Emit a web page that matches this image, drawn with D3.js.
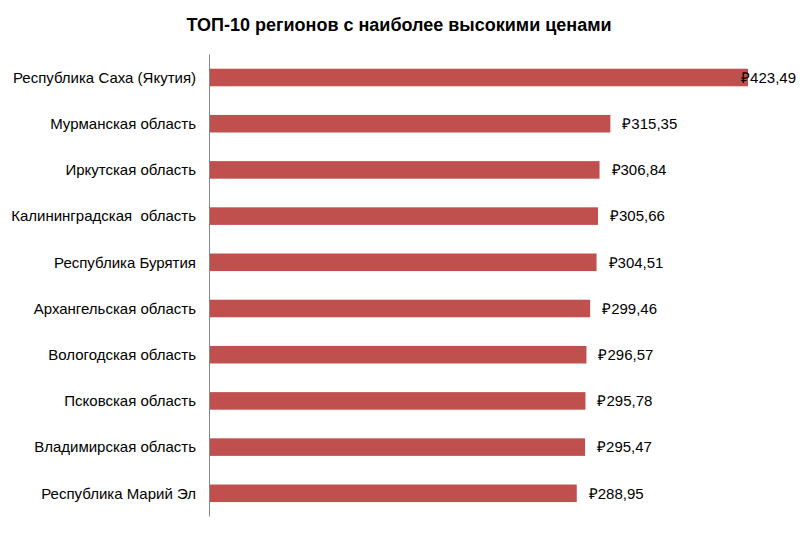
<!DOCTYPE html>
<html>
<head>
<meta charset="utf-8">
<script src="https://cdn.jsdelivr.net/npm/d3@7"></script>
<style>
  body { margin: 0; background: #fff; }
  svg { display: block; font-family: "Liberation Sans", Arial, sans-serif; }
  .cat { white-space: pre; }
</style>
</head>
<body>
<div id="chart"></div>
<script>
// Data
const regions = [
  "Республика Саха (Якутия)",
  "Мурманская область",
  "Иркутская область",
  "Калининградская  область",
  "Республика Бурятия",
  "Архангельская область",
  "Вологодская область",
  "Псковская область",
  "Владимирская область",
  "Республика Марий Эл"
];
const prices = [423.49, 315.35, 306.84, 305.66, 304.51, 299.46, 296.57, 295.78, 295.47, 288.95];

const W = 800, H = 535;
const margin = { top: 54.4, bottom: 18.6, left: 209 };

const svg = d3.select("#chart").append("svg").attr("width", W).attr("height", H);

svg.append("text")
  .attr("x", 399).attr("y", 31)
  .attr("text-anchor", "middle")
  .style("font-size", "18px").style("font-weight", "bold").style("fill", "#000")
  .text("ТОП-10 регионов с наиболее высокими ценами");

const x = d3.scaleLinear().domain([0, d3.max(prices)]).range([margin.left, 748]);
const y = d3.scaleBand().domain(regions).range([margin.top, H - margin.bottom])
  .paddingInner(0.62).paddingOuter(0.31);

const fmt = v => "₽" + v.toFixed(2).replace(".", ",");

// bars
svg.selectAll(".bar")
  .data(regions)
  .enter()
  .append("rect")
  .attr("class", "bar")
  .attr("x", x(0))
  .attr("y", d => y(d))
  .attr("width", (d, i) => x(prices[i]) - x(0))
  .attr("height", y.bandwidth())
  .attr("fill", "#C0504D");

// axis line
svg.append("line")
  .attr("x1", x(0) + 0.5).attr("x2", x(0) + 0.5)
  .attr("y1", margin.top).attr("y2", H - margin.bottom)
  .attr("stroke", "#888").attr("stroke-width", 1);

// category labels
svg.selectAll(".cat")
  .data(regions)
  .enter()
  .append("text")
  .attr("class", "cat")
  .attr("x", 196)
  .attr("y", d => y(d) + y.bandwidth() / 2)
  .attr("dy", "0.35em")
  .attr("text-anchor", "end")
  .style("font-size", "15px")
  .text(d => d);

// value labels, kept inside the canvas
svg.selectAll(".val")
  .data(prices)
  .enter()
  .append("text")
  .attr("class", "val")
  .attr("y", (d, i) => y(regions[i]) + y.bandwidth() / 2)
  .attr("dy", "0.35em")
  .style("font-size", "15px")
  .text(d => fmt(d))
  .each(function (d) {
    const w = this.getComputedTextLength();
    const left = Math.min(x(d) + 12, W - 4 - w);
    d3.select(this).attr("x", left);
  });
</script>
</body>
</html>
